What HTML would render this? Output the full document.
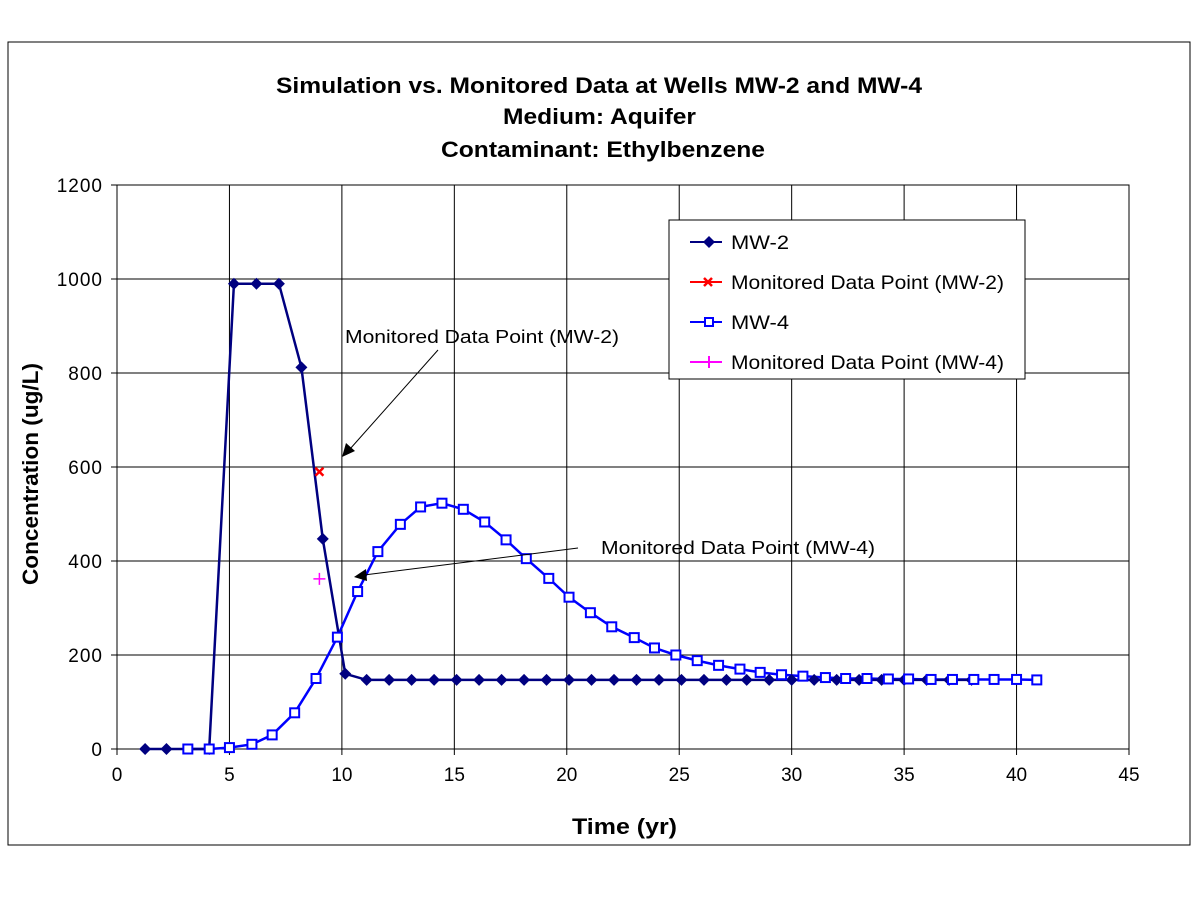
<!DOCTYPE html>
<html><head><meta charset="utf-8"><style>
body{margin:0;background:#fff;}
svg text{font-family:"Liberation Sans",Arial,sans-serif;}
</style></head><body>
<svg width="1198" height="898">
<rect x="8" y="42" width="1182" height="803" fill="#fff" stroke="#000"/>
<g font-size="22" font-weight="bold">
<text x="276" y="93" textLength="646" lengthAdjust="spacingAndGlyphs">Simulation vs. Monitored Data at Wells MW-2 and MW-4</text>
<text x="503" y="124" textLength="193" lengthAdjust="spacingAndGlyphs">Medium: Aquifer</text>
<text x="441" y="157" textLength="324" lengthAdjust="spacingAndGlyphs">Contaminant: Ethylbenzene</text>
</g>
<g id="grid"></g>
<g id="marks"></g>
<text x="572" y="834" font-size="22" font-weight="bold" textLength="105" lengthAdjust="spacingAndGlyphs">Time (yr)</text>
<text transform="translate(38,585) rotate(-90)" font-size="22" font-weight="bold" textLength="222" lengthAdjust="spacingAndGlyphs">Concentration (ug/L)</text>
<g>
<text x="345" y="343" font-size="18" textLength="274" lengthAdjust="spacingAndGlyphs">Monitored Data Point (MW-2)</text>
<line x1="438" y1="350" x2="350" y2="449" stroke="#000"/>
<polygon points="342,457 346,443 355,451" fill="#000"/>
</g>
<g>
<text x="601" y="554" font-size="18" textLength="274" lengthAdjust="spacingAndGlyphs">Monitored Data Point (MW-4)</text>
<line x1="578" y1="548" x2="364" y2="575" stroke="#000"/>
<polygon points="354,577 366,569 367,581" fill="#000"/>
</g>
<g font-size="19">
<rect x="669" y="220" width="356" height="159" fill="#fff" stroke="#000"/>
<line x1="690" y1="242" x2="722" y2="242" stroke="#000080" stroke-width="2"/>
<polygon points="709,236 715,242 709,248 703,242" fill="#000080"/>
<text x="731" y="249" textLength="58" lengthAdjust="spacingAndGlyphs">MW-2</text>
<line x1="690" y1="282" x2="722" y2="282" stroke="#f00" stroke-width="2"/>
<path d="M704,278 L712,286 M712,278 L704,286" stroke="#f00" stroke-width="2.5"/>
<text x="731" y="289" textLength="273" lengthAdjust="spacingAndGlyphs">Monitored Data Point (MW-2)</text>
<line x1="690" y1="322" x2="722" y2="322" stroke="#00f" stroke-width="2"/>
<rect x="705" y="318" width="8" height="8" fill="#fff" stroke="#00f" stroke-width="2"/>
<text x="731" y="329" textLength="58" lengthAdjust="spacingAndGlyphs">MW-4</text>
<line x1="690" y1="362" x2="722" y2="362" stroke="#f0f" stroke-width="2"/>
<path d="M709,356 L709,368" stroke="#f0f" stroke-width="2"/>
<text x="731" y="369" textLength="273" lengthAdjust="spacingAndGlyphs">Monitored Data Point (MW-4)</text>
</g>
</svg>
<script>
const xTicks=[0,5,10,15,20,25,30,35,40,45];
const yTicks=[0,200,400,600,800,1000,1200];
const mw2Times=[1.25,2.2,4.1,5.2,6.2,7.2,8.2,9.15,10.15,11.1,12.1,13.1,14.1,15.1,16.1,17.1,18.1,19.1,20.1,21.1,22.1,23.1,24.1,25.1,26.1,27.1,28.0,29.0,30.0,31.0,32.0,33.0,34.0,35.0,36.0,37.0,38.0];
const mw2Values=[0,0,0,990,990,990,812,447,160,147,147,147,147,147,147,147,147,147,147,147,147,147,147,147,147,147,147,147,147,147,147,147,147,147,147,147,147];
const mw4Times=[3.15,4.1,5.0,6.0,6.9,7.9,8.85,9.8,10.7,11.6,12.6,13.5,14.45,15.4,16.35,17.3,18.2,19.2,20.1,21.05,22.0,23.0,23.9,24.85,25.8,26.75,27.7,28.6,29.55,30.5,31.5,32.4,33.35,34.3,35.2,36.2,37.15,38.1,39.0,40.0,40.9];
const mw4Values=[0,0,3,10,30,77,150,238,335,420,478,515,523,510,483,445,405,363,323,290,260,237,215,200,188,178,170,163,158,155,152,150,150,149,149,148,148,148,148,148,147];
const monMw2Time=[9.0], monMw2Value=[590];
const monMw4Time=[9.0], monMw4Value=[362];

const X0=117,X1=1129,Y0=749,Y1=185;
const sx=v=>X0+(v-0)*(X1-X0)/45;
const sy=v=>Y0-(v-0)*(Y0-Y1)/1200;
const NS="http://www.w3.org/2000/svg";
function mk(parent,tag,attrs){const e=document.createElementNS(NS,tag);for(const k in attrs)e.setAttribute(k,attrs[k]);parent.appendChild(e);return e;}
const grid=document.getElementById('grid'), marks=document.getElementById('marks');
mk(grid,'rect',{x:X0,y:Y1,width:X1-X0,height:Y0-Y1,fill:'#fff',stroke:'#000'});
xTicks.forEach(t=>{
  const x=sx(t);
  if(t>0&&t<45){const l=mk(grid,'line',{x1:x,y1:Y1,x2:x,y2:Y0,stroke:'#000'});
  
  }
  mk(grid,'line',{x1:x,y1:Y0,x2:x,y2:Y0+6,stroke:'#000'});
  const tx=mk(grid,'text',{x:x,y:Y0+32,'font-size':19,'text-anchor':'middle'});tx.textContent=t;
  
  
});
yTicks.forEach(t=>{
  const y=sy(t);
  if(t>0&&t<1200){const l=mk(grid,'line',{x1:X0,y1:y,x2:X1,y2:y,stroke:'#000'});
  
  }
  mk(grid,'line',{x1:X0-6,y1:y,x2:X0,y2:y,stroke:'#000'});
  const tx=mk(grid,'text',{x:X0-14,y:y+7,'font-size':19,'text-anchor':'end','letter-spacing':'1'});tx.textContent=t;
  
  
});
const p4=mk(marks,'polyline',{points:mw4Times.map((t,i)=>sx(t)+','+sy(mw4Values[i])).join(' '),fill:'none',stroke:'#00f','stroke-width':2.5});


const p2=mk(marks,'polyline',{points:mw2Times.map((t,i)=>sx(t)+','+sy(mw2Values[i])).join(' '),fill:'none',stroke:'#000080','stroke-width':2.5});


mw2Times.forEach((t,i)=>{const x=sx(t),y=sy(mw2Values[i]);
  const d=mk(marks,'polygon',{points:`${x},${y-6} ${x+6},${y} ${x},${y+6} ${x-6},${y}`,fill:'#000080'});
  
  });
mw4Times.forEach((t,i)=>{const x=sx(t),y=sy(mw4Values[i]);
  const r=mk(marks,'rect',{x:x-4.5,y:y-4.5,width:9,height:9,fill:'#fff',stroke:'#00f','stroke-width':2});
  
  });
monMw2Time.forEach((t,i)=>{const x=sx(t),y=sy(monMw2Value[i]);
  const m=mk(marks,'path',{d:`M${x-4},${y-4}L${x+4},${y+4}M${x+4},${y-4}L${x-4},${y+4}`,stroke:'#f00','stroke-width':2.5});
  
  });
monMw4Time.forEach((t,i)=>{const x=sx(t),y=sy(monMw4Value[i]);
  const m=mk(marks,'path',{d:`M${x-6},${y}L${x+6},${y}M${x},${y-6}L${x},${y+6}`,stroke:'#f0f','stroke-width':1.5});
  
  });
</script>
</body></html>
